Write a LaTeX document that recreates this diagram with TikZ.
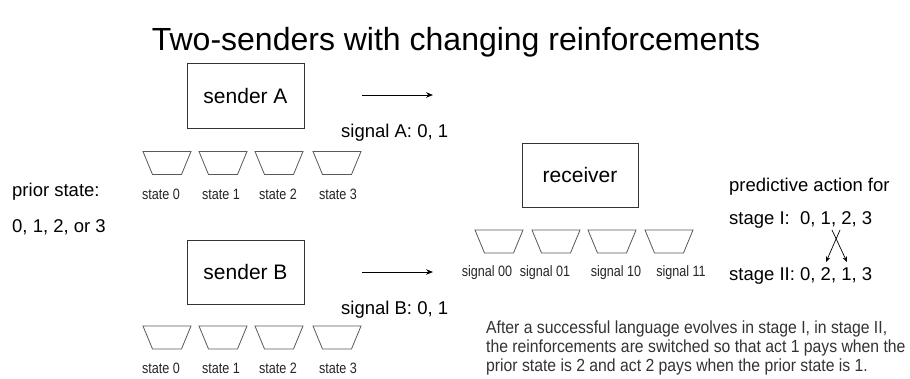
\documentclass[tikz,border=0pt]{standalone}
\usepackage{fontspec}
\setmainfont{Liberation Sans}
\newfontfamily\narrowfont[FakeStretch=0.84]{Liberation Sans}
\newfontfamily\descfont[FakeStretch=0.9]{Liberation Sans}
\usetikzlibrary{arrows.meta}
\tikzset{
  box/.style={draw=black!80, line width=0.9pt, minimum width=117pt, minimum height=65pt, inner sep=0pt, font=\fontsize{21}{25}\selectfont},
  urnline/.style={draw=black!65, line width=0.8pt, line join=miter},
  urn/.pic={\draw[urnline] (-24,-11.5) -- (24,-11.5) -- (14.5,11.5) -- (-14.5,11.5) -- cycle;},
  small/.style={font=\narrowfont\fontsize{15}{18}\selectfont, text=black!85, anchor=base, inner sep=0pt},
  mid/.style={font=\fontsize{18.5}{22}\selectfont, anchor=base west, inner sep=0pt},
  desc/.style={font=\descfont\fontsize{17.5}{20}\selectfont, text=black!80, anchor=base west, inner sep=0pt},
  arr/.style={-{Stealth[length=7pt,width=5.5pt]}, line width=0.9pt},
  xarr/.style={-{Stealth[length=5.5pt,width=4.5pt]}, line width=0.7pt}
}
\begin{document}
\begin{tikzpicture}[x=1pt,y=-1pt]
\fill[white] (0,0) rectangle (910,379);
\useasboundingbox (0,0) rectangle (910,379);

\node[anchor=base, inner sep=0pt, font=\fontsize{32}{38}\selectfont] (title) at (456,51) {Two-senders with changing reinforcements};

% senders and receiver
\node[box] (sA) at (245.5,95.5) {sender A};
\node[box, minimum height=64pt] (sB) at (245.5,272) {sender B};
\node[box, minimum width=116pt, minimum height=64pt] (rc) at (580,175) {receiver};

% signal arrows
\coordinate (aA1) at (362,95);
\coordinate (aA2) at (433,95);
\coordinate (aB1) at (362,272);
\coordinate (aB2) at (433,272);
\draw[arr] (aA1) -- (aA2);
\draw[arr] (aB1) -- (aB2);
\node[mid] (sigA) at (341,138) {signal A: 0, 1};
\node[mid] (sigB) at (341,314) {signal B: 0, 1};

% prior state
\node[mid] (prior) at (12,197) {prior state:};
\node[mid] (priorv) at (12,233) {0, 1, 2, or 3};

% urns sender A
\pic (uA0) at (167,163) {urn};
\pic (uA1) at (223,163) {urn};
\pic (uA2) at (279,163) {urn};
\pic (uA3) at (337,163) {urn};
\node[small] (lA0) at (161,200) {state 0};
\node[small] (lA1) at (221,200) {state 1};
\node[small] (lA2) at (278,200) {state 2};
\node[small] (lA3) at (338,200) {state 3};

% urns sender B
\pic (uB0) at (167,337.5) {urn};
\pic (uB1) at (223,337.5) {urn};
\pic (uB2) at (279,337.5) {urn};
\pic (uB3) at (337,337.5) {urn};
\node[small] (lB0) at (161,373) {state 0};
\node[small] (lB1) at (221,373) {state 1};
\node[small] (lB2) at (278,373) {state 2};
\node[small] (lB3) at (338,373) {state 3};

% urns receiver
\pic (uR0) at (499,241.5) {urn};
\pic (uR1) at (556,241.5) {urn};
\pic (uR2) at (612,241.5) {urn};
\pic (uR3) at (669,241.5) {urn};
\node[small] (lR0) at (487,277) {signal 00};
\node[small] (lR1) at (545,277) {signal 01};
\node[small] (lR2) at (616,277) {signal 10};
\node[small] (lR3) at (681,277) {signal 11};

% predictive action
\node[mid] (pred) at (729,192) {predictive action for};
\node[mid] (st1) at (729,225) {stage I:\ \ 0, 1, 2, 3};
\node[mid] (st2) at (729,280) {stage II: 0, 2, 1, 3};
\coordinate (x1) at (840,230);
\coordinate (x2) at (826,262);
\coordinate (x3) at (832,230);
\coordinate (x4) at (847,262);
\draw[xarr] (x1) -- (x2);
\draw[xarr] (x3) -- (x4);

% description
\node[desc] (d1) at (486,334) {After a successful language evolves in stage I, in stage II,};
\node[desc] (d2) at (486,352.5) {the reinforcements are switched so that act 1 pays when the};
\node[desc] (d3) at (486,371) {prior state is 2 and act 2 pays when the prior state is 1.};
\end{tikzpicture}
\end{document}
